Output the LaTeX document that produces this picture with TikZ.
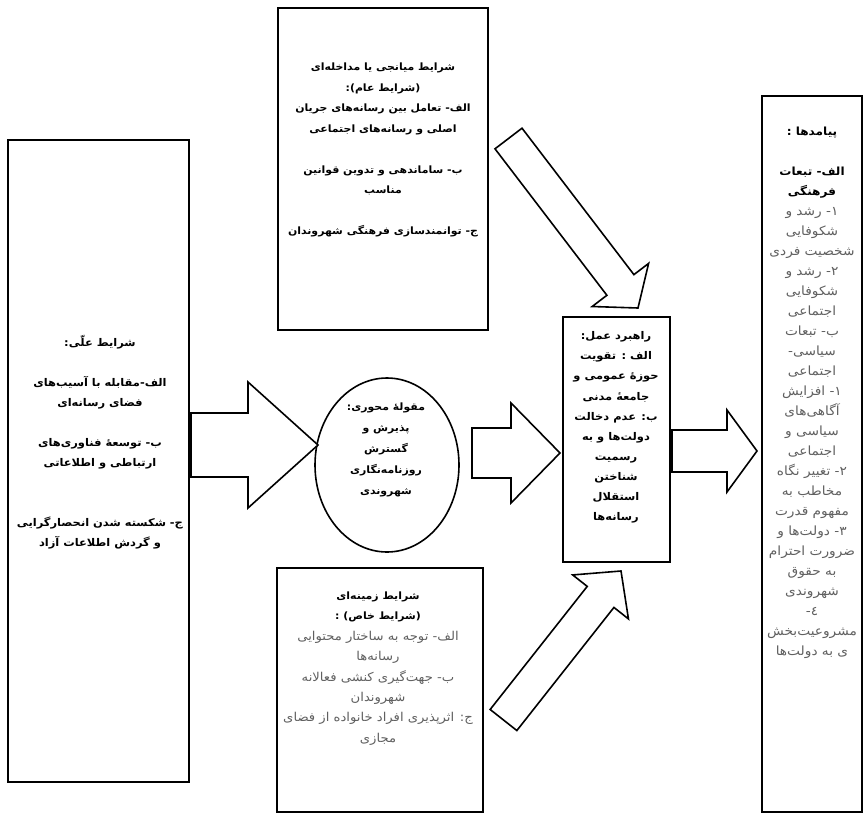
\documentclass[tikz,border=0pt]{standalone}
\usepackage{fontspec}
\usetikzlibrary{calc,shapes.geometric}
\TeXXeTstate=1
\newfontfamily\fa[Script=Arabic, FakeStretch=1.08]{DejaVu Sans}
\newcommand\R[1]{\beginR #1\endR}
\newcommand\G[1]{\textcolor{txtgray}{\beginR #1\endR}}
\definecolor{txtgray}{HTML}{606060}
\tikzset{
  boxshape/.style={draw=black, line width=1.6pt, inner sep=0pt, outer sep=0pt},
  txt/.style={font=\fa\fontsize{9}{20}\selectfont, align=center, inner sep=0pt, text=black},
  blockarr/.style={draw=black, line width=1.6pt, fill=white, line join=miter},
}
\newcommand\blockarrow[5]{%
  \coordinate (ba-b) at ($(#2)!#5!(#1)$);
  \draw[blockarr] ($(#1)!#3!90:(#2)$) -- ($(ba-b)!#3!90:(#2)$) -- ($(ba-b)!#4!90:(#2)$) -- (#2)
     -- ($(ba-b)!#4!-90:(#2)$) -- ($(ba-b)!#3!-90:(#2)$) -- ($(#1)!#3!-90:(#2)$) -- cycle;
}
\begin{document}
\begin{tikzpicture}[x=1pt,y=-1pt]
\useasboundingbox[fill=white] (0,0) rectangle (865,817);
% boxes
\node[boxshape, minimum width=181pt, minimum height=642pt] (cause) at (98.5,461) {};
\node[boxshape, minimum width=210pt, minimum height=322pt] (inter) at (383,169) {};
\node[boxshape, minimum width=206pt, minimum height=244pt] (context) at (380,690) {};
\node[boxshape, minimum width=107pt, minimum height=245pt] (strat) at (616.5,439.5) {};
\node[boxshape, minimum width=100pt, minimum height=716pt] (conseq) at (812,454) {};
\node[boxshape, ellipse, minimum width=144pt, minimum height=174pt] (core) at (387,465) {};
% arrows
\coordinate (a1s) at (191,445); \coordinate (a1e) at (318,445);
\coordinate (a2s) at (472,453); \coordinate (a2e) at (560,453);
\coordinate (a3s) at (672,451); \coordinate (a3e) at (757,451);
\coordinate (a4s) at (508.5,138.5); \coordinate (a4e) at (638,308);
\coordinate (a5s) at (503.5,720); \coordinate (a5e) at (621,571);
\blockarrow{a1s}{a1e}{32pt}{63pt}{70pt}
\blockarrow{a2s}{a2e}{25pt}{50pt}{49pt}
\blockarrow{a3s}{a3e}{21pt}{41pt}{30pt}
\blockarrow{a4s}{a4e}{17pt}{35.5pt}{29pt}
\blockarrow{a5s}{a5e}{17pt}{35.5pt}{33pt}
% texts
\node[txt, font=\fa\bfseries\fontsize{10.6}{20}\selectfont] (t-cause) at (100,442.5) {%
\R{شرایط علّی:}\\[20pt]
\R{الف-مقابله با آسیب‌های}\\ \R{فضای رسانه‌ای}\\[20pt]
\R{ب- توسعهٔ فناوری‌های}\\ \R{ارتباطی و اطلاعاتی}\\[40pt]
\R{ج- شکسته شدن انحصارگرایی}\\ \R{و گردش اطلاعات آزاد}};
\node[txt, font=\fa\bfseries\fontsize{10.1}{20.5}\selectfont] (t-inter) at (383,150) {%
\R{شرایط میانجی یا مداخله‌ای}\\ \R{(شرایط عام):}\\
\R{الف- تعامل بین رسانه‌های جریان}\\ \R{اصلی و رسانه‌های اجتماعی}\\[20.5pt]
\R{ب- ساماندهی و تدوین قوانین}\\ \R{مناسب}\\[20.5pt]
\R{ج- توانمندسازی فرهنگی شهروندان}};
\node[txt, font=\fa\bfseries\fontsize{10.1}{21}\selectfont] (t-core) at (386,450) {%
\R{مقولهٔ محوری:}\\ \R{پذیرش و}\\ \R{گسترش}\\ \R{روزنامه‌نگاری}\\ \R{شهروندی}};
\node[txt, font=\fa\bfseries\fontsize{10.6}{20.1}\selectfont] (t-strat) at (616,427.5) {%
\R{راهبرد عمل:}\\ \R{الف : تقویت}\\ \R{حوزهٔ عمومی و}\\ \R{جامعهٔ مدنی}\\
\R{ب: عدم دخالت}\\ \R{دولت‌ها و به}\\ \R{رسمیت}\\ \R{شناختن}\\ \R{استقلال}\\ \R{رسانه‌ها}};
\node[txt, font=\fa\fontsize{12.2}{20.4}\selectfont] (t-context) at (378,668.5) {%
\R{\fontsize{10.1}{20.4}\selectfont\bfseries شرایط زمینه‌ای}\\ \R{\fontsize{10.1}{20.4}\selectfont\bfseries (شرایط خاص) :}\\
\G{الف- توجه به ساختار محتوایی}\\ \G{رسانه‌ها}\\
\G{ب- جهت‌گیری کنشی فعالانه}\\ \G{شهروندان}\\
\G{ج: اثرپذیری افراد خانواده از فضای}\\ \G{مجازی}};
\node[txt, font=\fa\fontsize{12.7}{20}\selectfont] (t-conseq) at (812,393) {%
\R{\fontsize{11.2}{20}\selectfont\bfseries پیامدها :}\\[20pt]
\R{\fontsize{11.2}{20}\selectfont\bfseries الف- تبعات}\\ \R{\fontsize{11.2}{20}\selectfont\bfseries فرهنگی}\\
\G{۱- رشد و}\\ \G{شکوفایی}\\ \G{شخصیت فردی}\\
\G{۲- رشد و}\\ \G{شکوفایی}\\ \G{اجتماعی}\\
\G{ب- تبعات}\\ \G{سیاسی-}\\ \G{اجتماعی}\\
\G{۱- افزایش}\\ \G{آگاهی‌های}\\ \G{سیاسی و}\\ \G{اجتماعی}\\
\G{۲- تغییر نگاه}\\ \G{مخاطب به}\\ \G{مفهوم قدرت}\\
\G{۳- دولت‌ها و}\\ \G{ضرورت احترام}\\ \G{به حقوق}\\ \G{شهروندی}\\
\G{٤-}\\ \G{مشروعیت‌بخش}\\ \G{ی به دولت‌ها}};
\end{tikzpicture}
\end{document}
